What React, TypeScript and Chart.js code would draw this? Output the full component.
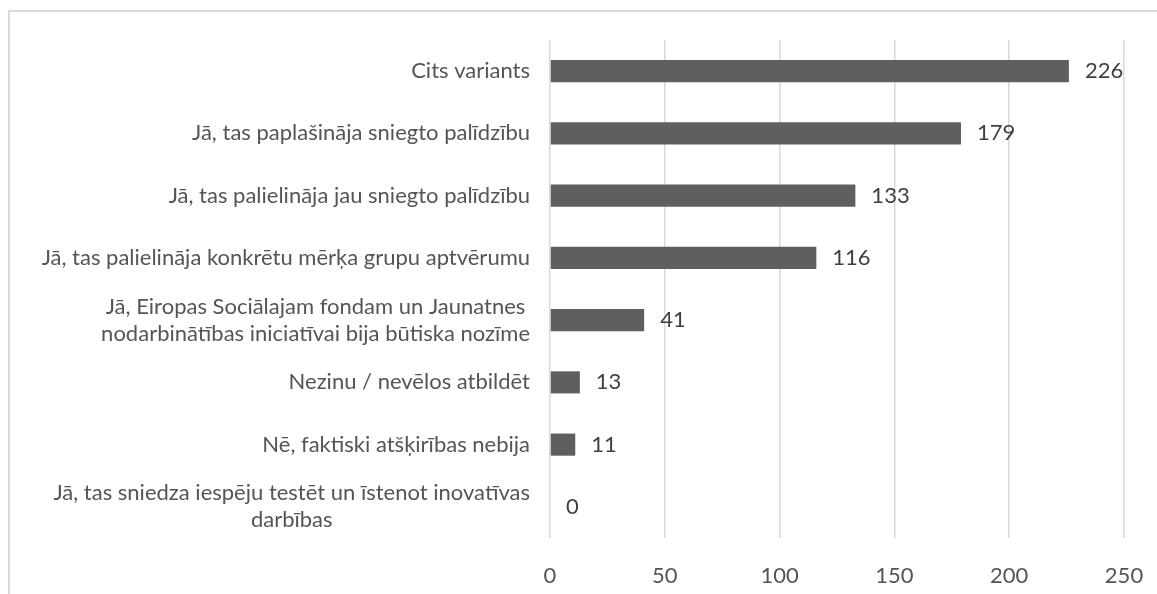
import React, { useEffect, useRef } from "react";
import { Chart, registerables } from "chart.js";

Chart.register(...registerables);

const categories: (string | string[])[] = [
  "Cits variants",
  "Jā, tas paplašināja sniegto palīdzību",
  "Jā, tas palielināja jau sniegto palīdzību",
  "Jā, tas palielināja konkrētu mērķa grupu aptvērumu",
  ["Jā, Eiropas Sociālajam fondam un Jaunatnes", "nodarbinātības iniciatīvai bija būtiska nozīme"],
  "Nezinu / nevēlos atbildēt",
  "Nē, faktiski atšķirības nebija",
  ["Jā, tas sniedza iespēju testēt un īstenot inovatīvas", "darbības"],
];
const values = [226, 179, 133, 116, 41, 13, 11, 0];
const xMin = 0;
const xMax = 250;
const xStep = 50;

const FONT = "Lato";
const FONT_SIZE = 22;
const LABEL_COLOR = "#555555";
const VALUE_COLOR = "#404040";
const BAR_COLOR = "#5f5f5f";
const GRID_COLOR = "#d9d9d9";

const yLabelsPlugin = {
  id: "yLabels",
  afterDraw(chart: any) {
    const ctx = chart.ctx;
    const y = chart.scales.y;
    const right = chart.chartArea.left - 20;
    const lineH = 27;
    ctx.save();
    ctx.font = `${FONT_SIZE}px ${FONT}`;
    ctx.fillStyle = LABEL_COLOR;
    ctx.textBaseline = "middle";
    categories.forEach((lab, i) => {
      const cy = y.getPixelForTick(i);
      const lines = Array.isArray(lab) ? lab : [lab];
      if (lines.length === 1) {
        ctx.textAlign = "right";
        ctx.fillText(lines[0], right, cy);
      } else {
        const w = Math.max(...lines.map((l) => ctx.measureText(l).width));
        const cx = right - w / 2;
        ctx.textAlign = "center";
        lines.forEach((l, k) => {
          ctx.fillText(l, cx, cy + (k - (lines.length - 1) / 2) * lineH);
        });
      }
    });
    ctx.restore();
  },
};

const valueLabelsPlugin = {
  id: "valueLabels",
  afterDatasetsDraw(chart: any) {
    const ctx = chart.ctx;
    const meta = chart.getDatasetMeta(0);
    ctx.save();
    ctx.font = `${FONT_SIZE}px ${FONT}`;
    ctx.fillStyle = VALUE_COLOR;
    ctx.textAlign = "left";
    ctx.textBaseline = "middle";
    meta.data.forEach((el: any, i: number) => {
      ctx.fillText(String(values[i]), el.x + 16, el.y);
    });
    ctx.restore();
  },
};

export default function App() {
  const ref = useRef<HTMLCanvasElement>(null);
  useEffect(() => {
    if (!ref.current) return;
    const chart = new Chart(ref.current, {
      type: "bar",
      data: {
        labels: categories as any,
        datasets: [
          {
            data: values,
            backgroundColor: BAR_COLOR,
            borderWidth: 0,
            barPercentage: 0.355,
            categoryPercentage: 1,
          },
        ],
      },
      options: {
        indexAxis: "y",
        animation: false,
        responsive: false,
        maintainAspectRatio: false,
        layout: { padding: { left: 0, right: 33, top: 40, bottom: 0 } },
        plugins: { legend: { display: false }, tooltip: { enabled: false } },
        scales: {
          x: {
            min: xMin,
            max: xMax,
            ticks: {
              stepSize: xStep,
              color: LABEL_COLOR,
              font: { family: FONT, size: FONT_SIZE },
              padding: 25,
            },
            grid: { color: GRID_COLOR, lineWidth: 1.5, drawTicks: false },
            border: { display: false },
            afterFit(scale: any) {
              scale.height = 56;
              scale.paddingLeft = 0;
              scale.paddingRight = 0;
            },
          },
          y: {
            ticks: { display: false },
            grid: { display: false, drawTicks: false },
            border: { display: false },
            afterFit(scale: any) {
              scale.width = 550;
              scale.paddingTop = 0;
              scale.paddingBottom = 0;
            },
          },
        },
      },
      plugins: [yLabelsPlugin, valueLabelsPlugin],
    });
    return () => chart.destroy();
  }, []);

  return (
    <div style={{ position: "fixed", left: 0, top: 0, width: 1157, height: 594, overflow: "hidden", background: "#fff" }}>
      <div
        style={{
          position: "absolute",
          left: 8,
          top: 10,
          width: 1300,
          height: 700,
          borderTop: "2px solid #d9d9d9",
          borderLeft: "2px solid #d9d9d9",
        }}
      />
      <canvas ref={ref} width={1157} height={594} style={{ position: "absolute", left: 0, top: 0, width: 1157, height: 594 }} />
    </div>
  );
}
